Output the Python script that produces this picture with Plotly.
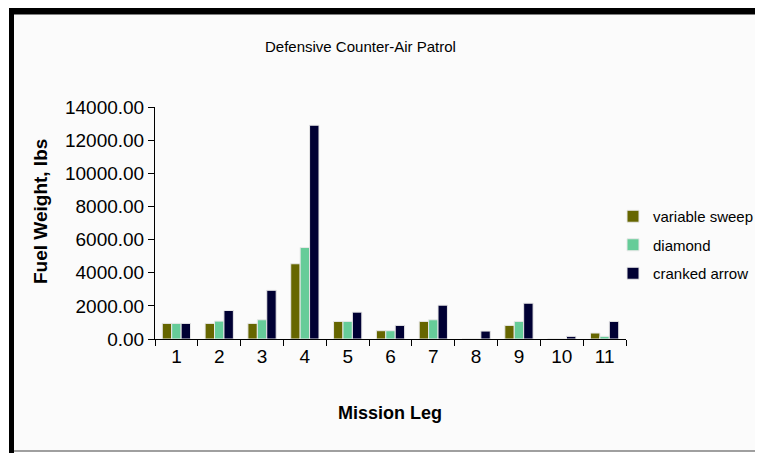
import plotly.graph_objects as go

legs = ["1", "2", "3", "4", "5", "6", "7", "8", "9", "10", "11"]
variable_sweep = [940, 940, 940, 4540, 1060, 500, 1060, 0, 820, 0, 360]
diamond = [940, 1080, 1160, 5520, 1060, 500, 1160, 0, 1060, 0, 160]
cranked_arrow = [940, 1720, 2940, 12900, 1620, 820, 2040, 480, 2160, 160, 1060]

# page has an 8px body margin, so the figure is drawn a bit smaller and
# positions below are given in window pixels
OFF = 8
W, H = 763 - OFF, 453 - OFF
FONT = "Liberation Sans, Arial, sans-serif"


def px(x):
    return (x - OFF) / W


def py(y):
    return 1 - (y - OFF) / H


fig = go.Figure()
series = [
    ("variable sweep", variable_sweep, "#666600"),
    ("diamond", diamond, "#66cc99"),
    ("cranked arrow", cranked_arrow, "#000033"),
]
for name, vals, col in series:
    fig.add_trace(go.Bar(
        x=legs, y=vals, name=name, legendgroup=name,
        marker=dict(color=col, line=dict(color="#e8e8e8", width=1)),
    ))

shapes = [
    # chart area background
    dict(type="rect", xref="paper", yref="paper", x0=px(14), x1=1, y0=py(451), y1=py(14),
         fillcolor="#fbfbfb", line_width=0, layer="below"),
    # black frame top and left
    dict(type="rect", xref="paper", yref="paper", x0=px(9), x1=1, y0=py(14), y1=py(8),
         fillcolor="black", line_width=0, layer="below"),
    dict(type="rect", xref="paper", yref="paper", x0=px(9), x1=px(14), y0=0, y1=py(8),
         fillcolor="black", line_width=0, layer="below"),
    dict(type="line", xref="paper", yref="paper", x0=px(14), x1=1, y0=py(14.5), y1=py(14.5),
         line=dict(color="#808080", width=1), layer="below"),
    dict(type="line", xref="paper", yref="paper", x0=px(14), x1=1, y0=py(451), y1=py(451),
         line=dict(color="#808080", width=1.5), layer="below"),
]

annotations = [
    dict(text="Defensive Counter-Air Patrol", x=px(360), y=py(46), xref="paper", yref="paper",
         xanchor="center", yanchor="middle", showarrow=False,
         font=dict(family=FONT, size=15, color="black")),
    dict(text="<b>Fuel Weight, lbs</b>", x=px(41), y=py(212), xref="paper", yref="paper",
         xanchor="center", yanchor="middle", showarrow=False, textangle=-90,
         font=dict(family=FONT, size=19, color="black")),
    dict(text="<b>Mission Leg</b>", x=px(390), y=py(413), xref="paper", yref="paper",
         xanchor="center", yanchor="middle", showarrow=False,
         font=dict(family=FONT, size=18, color="black")),
]

fig.update_layout(
    width=W, height=H,
    margin=dict(l=0, r=0, t=0, b=0),
    paper_bgcolor="white",
    plot_bgcolor="rgba(0,0,0,0)",
    barmode="group",
    bargap=0.34,
    bargroupgap=0,
    shapes=shapes,
    annotations=annotations,
    legend=dict(x=px(613), y=py(245), xanchor="left", yanchor="middle",
                font=dict(family=FONT, size=15, color="black"),
                itemwidth=30, traceorder="grouped", tracegroupgap=6,
                bgcolor="rgba(0,0,0,0)"),
    xaxis=dict(domain=[px(155), px(626)], showgrid=False, showline=True, linecolor="black",
               linewidth=1, ticks="outside", ticklen=6, tickcolor="black", tickson="boundaries",
               tickfont=dict(family=FONT, size=19, color="black"), automargin=False),
    yaxis=dict(domain=[py(339), py(107)], range=[0, 14000], dtick=2000, tickformat=".2f",
               showgrid=False, showline=True, linecolor="black", linewidth=1, ticks="outside",
               ticklen=6, tickcolor="black", zeroline=False,
               tickfont=dict(family=FONT, size=19, color="black"), automargin=False),
)

fig.write_html("out.html")
